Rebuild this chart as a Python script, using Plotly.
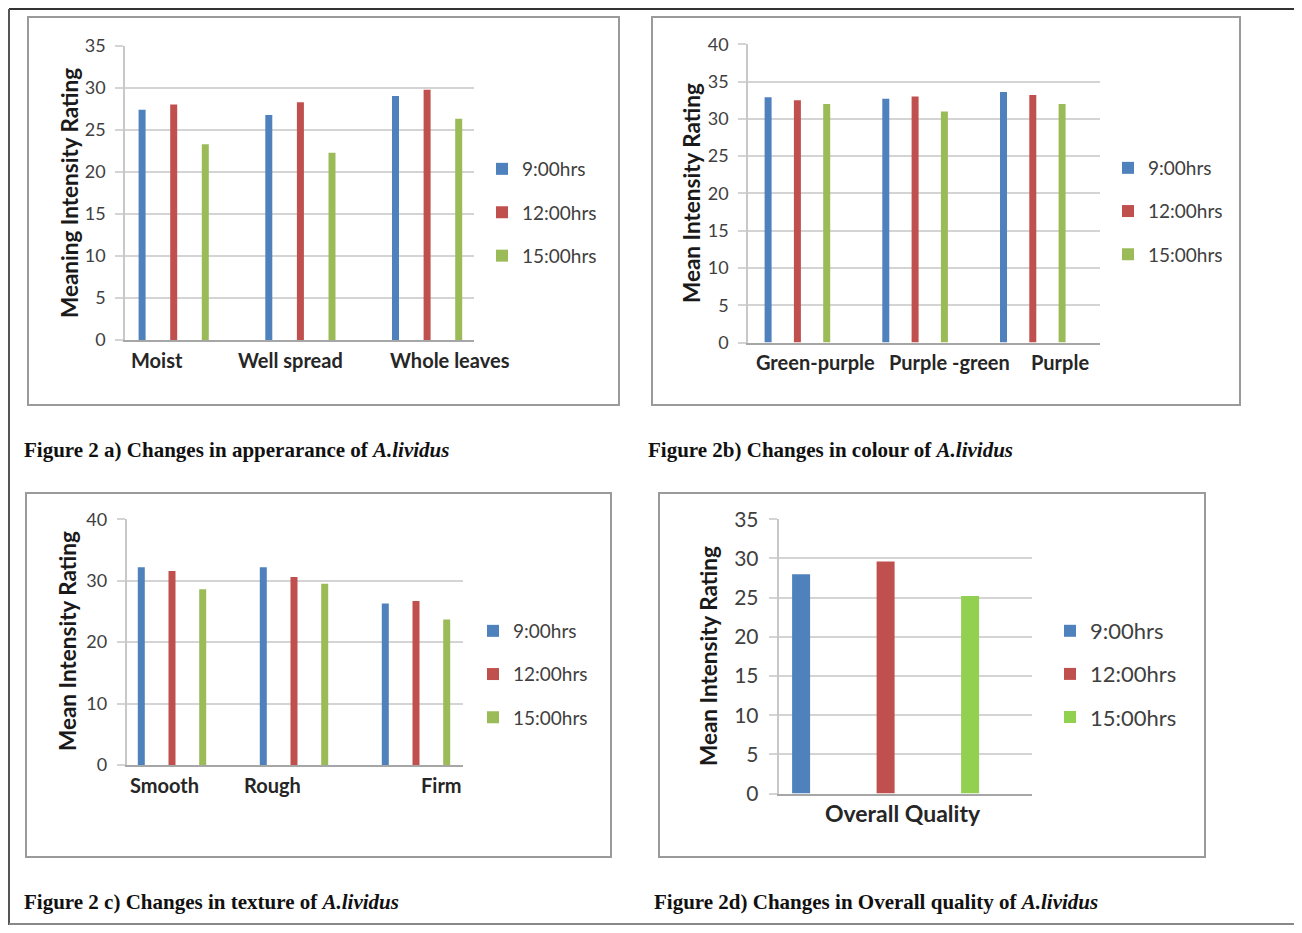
import plotly.graph_objects as go

# page geometry: the browser adds an 8px body margin round the figure
PAGE_W, PAGE_H = 1302, 933
BODY = 8
W, H = PAGE_W - 2 * BODY, PAGE_H - 2 * BODY

# ---------------- data ----------------
series_names = ["9:00hrs", "12:00hrs", "15:00hrs"]

a_categories = ["Moist", "Well spread", "Whole leaves"]
a_0900 = [27.4, 26.8, 29.05]
a_1200 = [28.05, 28.3, 29.8]
a_1500 = [23.3, 22.3, 26.35]
a_yticks = [0, 5, 10, 15, 20, 25, 30, 35]

b_categories = ["Green-purple", "Purple -green", "Purple"]
b_0900 = [32.9, 32.7, 33.6]
b_1200 = [32.5, 33.0, 33.2]
b_1500 = [32.0, 31.0, 32.0]
b_yticks = [0, 5, 10, 15, 20, 25, 30, 35, 40]

c_categories = ["Smooth", "Rough", "Firm"]
c_0900 = [32.2, 32.2, 26.3]
c_1200 = [31.6, 30.6, 26.7]
c_1500 = [28.6, 29.5, 23.7]
c_yticks = [0, 10, 20, 30, 40]

d_categories = ["Overall Quality"]
d_0900 = [28.0]
d_1200 = [29.6]
d_1500 = [25.2]
d_yticks = [0, 5, 10, 15, 20, 25, 30, 35]

y_titles = ["Meaning Intensity Rating", "Mean Intensity Rating",
            "Mean Intensity Rating", "Mean Intensity Rating"]
captions = [
    "Figure 2 a) Changes in apperarance of <i>A.lividus</i>",
    "Figure 2b) Changes in colour of <i>A.lividus</i>",
    "Figure 2 c) Changes in texture of <i>A.lividus</i>",
    "Figure 2d) Changes in Overall quality of <i>A.lividus</i>",
]

# ---------------- styles / geometry (page pixels) ----------------
colors_abc = ["#4F81BD", "#C0504D", "#9BBB59"]
colors_d = ["#4F81BD", "#C0504D", "#92D050"]
TXT = "#404040"
GRID = "#d4d4d4"
FONT = "Lato"

panels = [
    dict(cats=a_categories, vals=[a_0900, a_1200, a_1500], ticks=a_yticks, colors=colors_abc,
         left=125, right=474, top=46, bottom=340, c0=173.7, sp=126.7, shift=31.6, bw=7,
         lab_x=[157, 290, 450], lab_y=360, tick_fs=18, lab_fs=20, leg_fs=19, leg_gap=15.7,
         leg_text_x=522, leg_y0=162, title_x=69, title_y=193,
         frame=(28, 17, 619, 405), cap=(22, 450)),
    dict(cats=b_categories, vals=[b_0900, b_1200, b_1500], ticks=b_yticks, colors=colors_abc,
         left=748, right=1100, top=44.3, bottom=342.5, c0=797.4, sp=117.7, shift=29.3, bw=7,
         lab_x=[815, 949, 1060], lab_y=362, tick_fs=18, lab_fs=20, leg_fs=19, leg_gap=15.5,
         leg_text_x=1148, leg_y0=161, title_x=691, title_y=193,
         frame=(652, 17, 1240, 405), cap=(646, 450)),
    dict(cats=c_categories, vals=[c_0900, c_1200, c_1500], ticks=c_yticks, colors=colors_abc,
         left=126.5, right=463, top=519.3, bottom=765, c0=172, sp=122, shift=30.7, bw=7,
         lab_x=[164.8, 272.5, 441.7], lab_y=785, tick_fs=18, lab_fs=20, leg_fs=19, leg_gap=15.5,
         leg_text_x=513, leg_y0=624, title_x=67, title_y=641,
         frame=(26, 493, 611, 857), cap=(22, 902)),
    dict(cats=d_categories, vals=[d_0900, d_1200, d_1500], ticks=d_yticks, colors=colors_d,
         left=778.5, right=1031.5, top=519.3, bottom=793.5, c0=885.6, sp=300, shift=84.5, bw=18,
         lab_x=[903.3], lab_y=813, tick_fs=21, lab_fs=23, leg_fs=22, leg_gap=11.5,
         leg_text_x=1090, leg_y0=622, title_x=708, title_y=656,
         frame=(659, 493, 1205, 857), cap=(652, 902)),
]


def fx(px):
    return (px - BODY) / W


def fy(py):
    return 1 - (py - BODY) / H


fig = go.Figure()
annotations = []
shapes = []
layout_extra = {}

for n, p in enumerate(panels, start=1):
    sfx = "" if n == 1 else str(n)
    xa, ya, lg = "x" + sfx, "y" + sfx, "legend" + sfx
    bw_u = p["bw"] / p["sp"]
    sh_u = p["shift"] / p["sp"]
    for k in range(3):
        fig.add_trace(go.Bar(
            x=p["cats"], y=p["vals"][k], name=series_names[k],
            marker=dict(color=p["colors"][k], line=dict(width=0)),
            width=bw_u, offset=(k - 1) * sh_u - bw_u / 2,
            xaxis=xa, yaxis=ya, legend=lg, legendgroup=f"g{n}{k}",
        ))
    layout_extra["xaxis" + sfx] = dict(
        domain=[fx(p["left"]), fx(p["right"])], anchor=ya, type="category",
        range=[(p["left"] - p["c0"]) / p["sp"], (p["right"] - p["c0"]) / p["sp"]],
        showline=True, linecolor="#a6a6a6", linewidth=1.5, showgrid=False,
        showticklabels=False, ticks="", fixedrange=True, automargin=False,
    )
    layout_extra["yaxis" + sfx] = dict(
        domain=[fy(p["bottom"]), fy(p["top"])], anchor=xa,
        range=[0, p["ticks"][-1]], tickvals=p["ticks"],
        showgrid=True, gridcolor=GRID, gridwidth=1.5, zeroline=False,
        showline=True, linecolor="#c8c8c8", linewidth=1.5,
        ticks="outside", ticklen=8, tickcolor=GRID, tickwidth=1.5,
        tickfont=dict(family=FONT, size=p["tick_fs"], color=TXT),
        ticklabelstandoff=6, fixedrange=True, automargin=False,
    )
    layout_extra[lg] = dict(
        x=fx(p["leg_text_x"] - 40), y=fy(p["leg_y0"] - 12), xanchor="left", yanchor="top",
        font=dict(family=FONT, size=p["leg_fs"], color=TXT),
        tracegroupgap=p["leg_gap"], bgcolor="rgba(0,0,0,0)", borderwidth=0,
    )
    # category labels
    for i, cat in enumerate(p["cats"]):
        gc = p["c0"] + i * p["sp"]
        annotations.append(dict(
            x=i, xref=xa, y=fy(p["lab_y"]), yref="paper", text=cat, showarrow=False,
            xshift=p["lab_x"][i] - gc, xanchor="center", yanchor="middle",
            font=dict(family=FONT, size=p["lab_fs"], color="#262626", weight="bold"),
        ))
    # y-axis title
    annotations.append(dict(
        x=fx(p["title_x"]), y=fy(p["title_y"]), xref="paper", yref="paper",
        text=y_titles[n - 1], textangle=-90, showarrow=False,
        xanchor="center", yanchor="middle",
        font=dict(family=FONT, size=22.5, color="#1a1a1a", weight="bold"),
    ))
    # caption
    annotations.append(dict(
        x=fx(p["cap"][0]), y=fy(p["cap"][1]), xref="paper", yref="paper",
        text="<b>" + captions[n - 1] + "</b>", showarrow=False,
        xanchor="left", yanchor="middle",
        font=dict(family="Liberation Serif", size=21, color="#111111"),
    ))
    # chart frame
    x0, y0, x1, y1 = p["frame"]
    shapes.append(dict(type="rect", xref="paper", yref="paper",
                       x0=fx(x0), y0=fy(y1), x1=fx(x1), y1=fy(y0),
                       line=dict(color="#9a9a9a", width=2), layer="below"))

# outer page border (top, left, bottom)
shapes.append(dict(type="line", xref="paper", yref="paper", x0=fx(9), x1=1, y0=fy(9), y1=fy(9),
                   line=dict(color="#333333", width=2)))
shapes.append(dict(type="line", xref="paper", yref="paper", x0=fx(9), x1=fx(9), y0=fy(9), y1=0,
                   line=dict(color="#555555", width=2)))
shapes.append(dict(type="line", xref="paper", yref="paper", x0=fx(9), x1=1, y0=fy(924), y1=fy(924),
                   line=dict(color="#888888", width=2)))

fig.update_layout(
    width=W, height=H, margin=dict(l=0, r=0, t=0, b=0, autoexpand=False),
    paper_bgcolor="white", plot_bgcolor="white",
    showlegend=True, annotations=annotations, shapes=shapes,
    font=dict(family=FONT, color=TXT),
    **layout_extra,
)

fig.write_html("out.html")
